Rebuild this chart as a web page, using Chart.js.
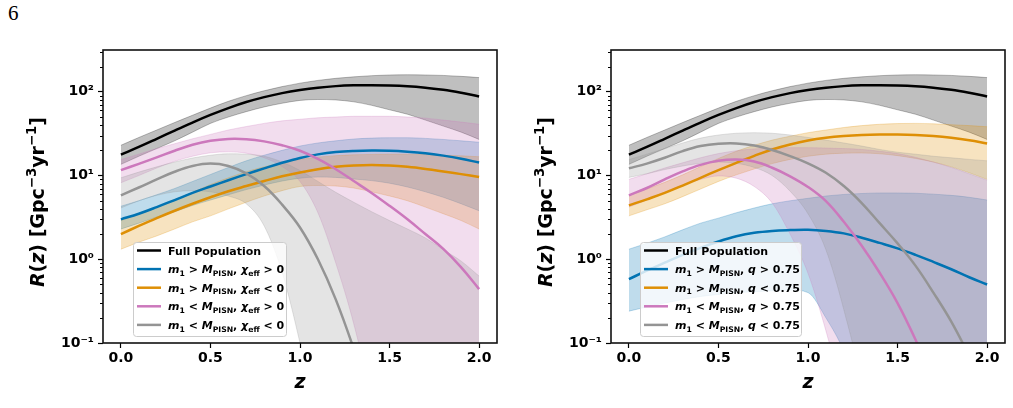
<!DOCTYPE html>
<html>
<head>
<meta charset="utf-8">
<script src="https://cdn.jsdelivr.net/npm/chart.js@4.4.1/dist/chart.umd.min.js"></script>
<style>
  html, body { margin: 0; padding: 0; background: #fff; }
  #wrap { position: relative; width: 1013px; height: 408px; overflow: hidden; }
  #wrap canvas { position: absolute; top: 0; }
  #pageNum { position: absolute; left: 8px; top: 0; font: 21px "Liberation Serif", serif; line-height: 27px; color: #000; }
</style>
</head>
<body>
<div id="wrap">
  <div id="pageNum">6</div>
  <canvas id="chiChart" width="506" height="408" style="left:0"></canvas>
  <canvas id="qChart" width="507" height="408" style="left:506px"></canvas>
</div>
<script>
// redshift grid shared by every curve
const zGrid = [0, 0.1, 0.2, 0.3, 0.4, 0.5, 0.6, 0.7, 0.8, 0.9, 1.0, 1.1, 1.2, 1.3, 1.4, 1.5, 1.6, 1.7, 1.8, 1.9, 2.0];

// Full population (same in both panels)
const fullMed = [17.8, 22, 27.5, 34.5, 43, 53, 64, 75.5, 86.5, 96.5, 105, 112, 117, 119.5, 120, 119, 116.5, 112, 106, 97.5, 88];
const fullHi  = [23, 28.5, 35, 43, 52.5, 64, 77, 90, 103, 115.5, 127, 137, 145, 151, 156, 159, 160, 159, 157, 153, 148];
const fullLo  = [13.6, 17, 21, 26, 33, 42, 50, 58, 66, 73, 79, 81, 80, 76, 69, 61, 54, 46, 39, 33, 27];

// left panel: split by chi_eff
const aboveChiPosMed = [3.0, 3.5, 4.2, 5.1, 6.2, 7.4, 8.8, 10.4, 12.2, 14.2, 16.2, 17.9, 19.1, 19.7, 19.9, 19.8, 19.3, 18.5, 17.3, 15.9, 14.3];
const aboveChiPosHi  = [4.3, 5.0, 5.9, 7.0, 8.5, 10.3, 12.5, 15, 17.5, 20, 22.5, 24.5, 26, 27.3, 28, 28.3, 28.3, 27.8, 27, 26, 25];
const aboveChiPosLo  = [2.3, 2.7, 3.2, 3.7, 4.4, 5.1, 5.9, 6.8, 7.7, 8.6, 9.3, 9.6, 9.5, 9.1, 8.7, 8.1, 7.3, 6.4, 5.5, 4.6, 3.8];

const aboveChiNegMed = [2.0, 2.5, 3.1, 3.8, 4.6, 5.5, 6.5, 7.5, 8.6, 9.8, 10.9, 11.9, 12.7, 13.2, 13.4, 13.2, 12.7, 12, 11.2, 10.4, 9.6];
const aboveChiNegHi  = [2.9, 3.5, 4.2, 5.1, 6.3, 7.8, 9.4, 11.1, 12.7, 14.2, 15.6, 16.6, 17.3, 17.7, 17.9, 18, 18, 17.8, 17.5, 17.2, 16.8];
const aboveChiNegLo  = [1.32, 1.6, 1.9, 2.3, 2.8, 3.3, 4.0, 4.8, 5.7, 6.6, 7.4, 7.6, 7.5, 7.1, 6.4, 5.7, 5.0, 4.2, 3.5, 2.9, 2.3];

const belowChiPosMed = [11.6, 13.8, 16.5, 19.8, 23.3, 26, 27.4, 27.2, 25.6, 23, 19.8, 15.8, 11.9, 8.6, 6.2, 4.35, 3.0, 2.0, 1.33, 0.80, 0.44];
const belowChiPosHi  = [15.5, 18, 21, 24, 27.5, 31, 35, 38.5, 42, 45, 47, 49, 50, 51, 51, 51, 50, 48.5, 46, 43.5, 41];
const belowChiPosLo  = [8.2, 10, 12.3, 14.8, 17, 18.7, 19.2, 18.5, 16.3, 12.8, 8.5, 3.6, 0.9, 0.17, 0.02, 0.001, 0.001, 0.001, 0.001, 0.001, 0.001];

const belowChiNegMed = [5.8, 7.2, 9.0, 11.1, 13.0, 13.9, 13.0, 10.6, 7.5, 4.5, 2.4, 1.0, 0.33, 0.085, 0.018, null, null, null, null, null, null];
const belowChiNegHi  = [9.4, 11, 12.7, 14.5, 16.2, 17.5, 18.2, 18, 17, 14.5, 11.5, 8.5, 6.3, 4.8, 3.7, 2.9, 2.3, 1.8, 1.3, 0.95, 0.63];
const belowChiNegLo  = [4.1, 5.0, 5.8, 6.4, 6.6, 6.4, 5.7, 4.6, 2.5, 0.7, 0.1, 0.01, 0.001, 0.001, 0.001, 0.001, 0.001, 0.001, 0.001, 0.001, 0.001];

// right panel: split by mass ratio q
const aboveQHighMed = [0.58, 0.73, 0.91, 1.13, 1.37, 1.63, 1.88, 2.07, 2.18, 2.23, 2.25, 2.18, 2.04, 1.81, 1.57, 1.35, 1.13, 0.93, 0.76, 0.61, 0.5];
const aboveQHighHi  = [1.32, 1.55, 1.85, 2.25, 2.7, 3.1, 3.6, 4.1, 4.6, 5.0, 5.35, 5.7, 5.95, 6.1, 6.2, 6.2, 6.15, 6.0, 5.8, 5.5, 5.1];
const aboveQHighLo  = [0.24, 0.27, 0.3, 0.33, 0.36, 0.38, 0.40, 0.41, 0.42, 0.43, 0.40, 0.2, 0.08, 0.02, 0.001, 0.001, 0.001, 0.001, 0.001, 0.001, 0.001];

const aboveQLowMed = [4.4, 5.2, 6.2, 7.6, 9.4, 11.6, 14.2, 17.2, 20.5, 23.5, 26.2, 28.2, 29.6, 30.5, 30.9, 30.9, 30.5, 29.6, 28.2, 26.4, 24.2];
const aboveQLowHi  = [5.8, 6.9, 8.3, 10.2, 12.8, 16, 19.5, 23, 26.5, 29.5, 32.5, 35, 37.5, 39.5, 41, 41.8, 42, 41.5, 40.5, 39.5, 38.3];
const aboveQLowLo  = [3.3, 3.9, 4.6, 5.6, 6.9, 8.5, 10.2, 12, 13.9, 15.6, 17, 18, 18.5, 18.6, 18.2, 17.3, 16, 14.5, 12.7, 10.8, 9.0];

const belowQHighMed = [5.8, 7.1, 9.0, 11.2, 13.4, 15, 15.5, 14.7, 12.4, 9.8, 7.3, 4.95, 2.8, 1.45, 0.69, 0.30, 0.11, 0.035, null, null, null];
const belowQHighHi  = [9, 10.5, 12.3, 14.2, 16.3, 18.3, 19.8, 20.8, 21.3, 21.5, 21.5, 21.3, 21, 20.5, 19.5, 18.3, 16.5, 14.5, 12.5, 10.5, 8.8];
const belowQHighLo  = [4.2, 5.1, 6.3, 7.7, 9.0, 9.9, 9.3, 7.4, 4.7, 2.0, 0.68, 0.14, 0.02, 0.001, 0.001, 0.001, 0.001, 0.001, 0.001, 0.001, 0.001];

const belowQLowMed = [12.2, 13.9, 16.3, 19.6, 22.5, 24, 24.2, 22.8, 20.2, 17.1, 14, 10.8, 7.5, 4.7, 2.7, 1.55, 0.84, 0.40, 0.18, 0.07, 0.025];
const belowQLowHi  = [15.5, 18, 21, 24.5, 28, 30.5, 32, 32.5, 32, 30.5, 28.5, 26.5, 24.5, 22.5, 20.5, 19, 18, 17, 16.3, 15.6, 15];
const belowQLowLo  = [9.5, 10.5, 11.8, 13, 14, 14.5, 14, 12.5, 10, 6.5, 3.5, 1.3, 0.25, 0.03, 0.001, 0.001, 0.001, 0.001, 0.001, 0.001, 0.001];

// axis ticks
const xTickValues = [0, 0.5, 1.0, 1.5, 2.0];
const yMajorTicks = [0.1, 1, 10, 100];
const yTickLabels = ['10\u207B\u00B9', '10\u2070', '10\u00B9', '10\u00B2'];
const yMinorTicks = [];
[0.1, 1, 10, 100].forEach(d => [2, 3, 4, 5, 6, 7, 8, 9].forEach(m => { if (d * m < 316) yMinorTicks.push(+(d * m).toPrecision(3)); }));

// legend text pieces: [text, style]  i = italic, n = upright, sub/sup
const chiLegend = [
  [['Full Population', 'n']],
  [['m', 'i'], ['1', 'sub'], [' > ', 'n'], ['M', 'i'], ['PISN', 'sub'], [', ', 'n'], ['\u03C7', 'i'], ['eff', 'sub'], [' > 0', 'n']],
  [['m', 'i'], ['1', 'sub'], [' > ', 'n'], ['M', 'i'], ['PISN', 'sub'], [', ', 'n'], ['\u03C7', 'i'], ['eff', 'sub'], [' < 0', 'n']],
  [['m', 'i'], ['1', 'sub'], [' < ', 'n'], ['M', 'i'], ['PISN', 'sub'], [', ', 'n'], ['\u03C7', 'i'], ['eff', 'sub'], [' > 0', 'n']],
  [['m', 'i'], ['1', 'sub'], [' < ', 'n'], ['M', 'i'], ['PISN', 'sub'], [', ', 'n'], ['\u03C7', 'i'], ['eff', 'sub'], [' < 0', 'n']]
];
const qLegend = [
  [['Full Population', 'n']],
  [['m', 'i'], ['1', 'sub'], [' > ', 'n'], ['M', 'i'], ['PISN', 'sub'], [', ', 'n'], ['q', 'i'], [' > 0.75', 'n']],
  [['m', 'i'], ['1', 'sub'], [' > ', 'n'], ['M', 'i'], ['PISN', 'sub'], [', ', 'n'], ['q', 'i'], [' < 0.75', 'n']],
  [['m', 'i'], ['1', 'sub'], [' < ', 'n'], ['M', 'i'], ['PISN', 'sub'], [', ', 'n'], ['q', 'i'], [' > 0.75', 'n']],
  [['m', 'i'], ['1', 'sub'], [' < ', 'n'], ['M', 'i'], ['PISN', 'sub'], [', ', 'n'], ['q', 'i'], [' < 0.75', 'n']]
];
const yTitle = [['R', 'i'], ['(', 'n'], ['z', 'i'], [') [Gpc', 'n'], ['\u22123', 'sup'], ['yr', 'n'], ['\u22121', 'sup'], [']', 'n']];

const colBlack = '0,0,0', colBlue = '1,115,178', colOrange = '222,143,5', colPink = '204,120,188', colGray = '148,148,148';

const chiSeries = [
  { med: fullMed, hi: fullHi, lo: fullLo, rgb: colBlack },
  { med: aboveChiPosMed, hi: aboveChiPosHi, lo: aboveChiPosLo, rgb: colBlue },
  { med: aboveChiNegMed, hi: aboveChiNegHi, lo: aboveChiNegLo, rgb: colOrange },
  { med: belowChiPosMed, hi: belowChiPosHi, lo: belowChiPosLo, rgb: colPink },
  { med: belowChiNegMed, hi: belowChiNegHi, lo: belowChiNegLo, rgb: colGray }
];
const qSeries = [
  { med: fullMed, hi: fullHi, lo: fullLo, rgb: colBlack },
  { med: aboveQHighMed, hi: aboveQHighHi, lo: aboveQHighLo, rgb: colBlue },
  { med: aboveQLowMed, hi: aboveQLowHi, lo: aboveQLowLo, rgb: colOrange },
  { med: belowQHighMed, hi: belowQHighHi, lo: belowQHighLo, rgb: colPink },
  { med: belowQLowMed, hi: belowQLowHi, lo: belowQLowLo, rgb: colGray }
];

Chart.defaults.font.family = '"DejaVu Sans", sans-serif';
Chart.defaults.color = '#000';

function pts(arr) {
  return zGrid.map((z, i) => ({ x: z, y: arr[i] }));
}

function buildDatasets(series) {
  const ds = [];
  // bands first (fill_between sits under the lines)
  series.forEach((s, k) => {
    const band = `rgba(${s.rgb},0.25)`;
    ds.push({ data: pts(s.hi), borderColor: band, backgroundColor: band, borderWidth: 1, pointRadius: 0,
              fill: '+1', order: 30 - k, cubicInterpolationMode: 'monotone' });
    ds.push({ data: pts(s.lo), borderColor: band, borderWidth: 1, pointRadius: 0,
              fill: false, order: 30 - k, cubicInterpolationMode: 'monotone' });
  });
  series.forEach((s, k) => {
    ds.push({ data: pts(s.med), borderColor: `rgb(${s.rgb})`, borderWidth: 2.5, pointRadius: 0,
              fill: false, order: 10 - k, tension: 0.4 });
  });
  return ds;
}

// draws mixed upright / italic / sub / sup bold text, returns width
function drawRich(ctx, parts, x, y, size, measureOnly) {
  let cx = x;
  for (const [t, st] of parts) {
    let fs = size, dy = 0;
    if (st === 'sub') { fs = size * 0.7; dy = size * 0.25; }
    if (st === 'sup') { fs = size * 0.7; dy = -size * 0.42; }
    ctx.font = (st === 'i' ? 'italic ' : '') + 'bold ' + fs + 'px "DejaVu Sans"';
    if (!measureOnly) ctx.fillText(t, cx, y + dy);
    cx += ctx.measureText(t).width;
  }
  return cx - x;
}

const paperDecor = {
  id: 'paperDecor',
  afterDraw(chart, args, opts) {
    const ctx = chart.ctx;
    const { left, right, top, bottom } = chart.chartArea;
    const yScale = chart.scales.y;
    ctx.save();

    // minor y ticks
    ctx.strokeStyle = '#000';
    ctx.lineWidth = 1;
    yMinorTicks.forEach(v => {
      const py = Math.round(yScale.getPixelForValue(v)) + 0.5;
      ctx.beginPath();
      ctx.moveTo(left - 3, py);
      ctx.lineTo(left, py);
      ctx.stroke();
    });

    // frame
    ctx.lineWidth = 1.6;
    ctx.strokeStyle = '#111';
    ctx.strokeRect(left, top, right - left, bottom - top);

    // axis titles
    ctx.fillStyle = '#000';
    ctx.textBaseline = 'alphabetic';
    ctx.textAlign = 'left';
    ctx.font = 'italic bold 19px "DejaVu Sans"';
    const zw = ctx.measureText('z').width;
    ctx.fillText('z', (left + right) / 2 - zw / 2, 388);

    const tw = drawRich(ctx, yTitle, 0, 0, 19, true);
    ctx.save();
    ctx.translate(left - 59, opts.yTitleCenter);
    ctx.rotate(-Math.PI / 2);
    drawRich(ctx, yTitle, -tw / 2, 0, 19);
    ctx.restore();

    // legend
    const lb = opts.legendBox;
    const bx = left + lb.dx, by = top + lb.dy;
    ctx.beginPath();
    ctx.roundRect(bx + 0.5, by + 0.5, lb.w, lb.h, 3);
    ctx.fillStyle = 'rgba(255,255,255,0.8)';
    ctx.fill();
    ctx.strokeStyle = '#cccccc';
    ctx.lineWidth = 1;
    ctx.stroke();
    opts.labels.forEach((parts, i) => {
      const cy = by + 8.5 + i * 18.6;
      ctx.strokeStyle = `rgb(${opts.colors[i]})`;
      ctx.lineWidth = 2.5;
      ctx.beginPath();
      ctx.moveTo(bx + 4, cy);
      ctx.lineTo(bx + 28, cy);
      ctx.stroke();
      ctx.fillStyle = '#000';
      drawRich(ctx, parts, bx + 35, cy + 4, 11);
    });

    ctx.restore();
  }
};

function makeChart(id, series, labels, axisW, padRight, legendBox) {
  return new Chart(document.getElementById(id), {
    type: 'line',
    data: { datasets: buildDatasets(series) },
    options: {
      responsive: false,
      animation: false,
      devicePixelRatio: 1,
      layout: { padding: { left: 0, right: padRight, top: 50, bottom: 0 } },
      plugins: {
        legend: { display: false },
        tooltip: { enabled: false },
        paperDecor: { labels, colors: series.map(s => s.rgb), legendBox, yTitleCenter: 202 }
      },
      scales: {
        x: {
          type: 'linear',
          min: -0.1,
          max: 2.1,
          afterBuildTicks: s => { s.ticks = xTickValues.map(v => ({ value: v })); },
          afterFit: s => { s.height = 65; },
          ticks: {
            autoSkip: false,
            maxRotation: 0,
            padding: 2,
            font: { size: 14, weight: 'bold' },
            callback: v => Number(v).toFixed(1)
          },
          grid: { drawOnChartArea: false, drawTicks: true, tickLength: 5, tickColor: '#000', tickWidth: 1.2 },
          border: { display: false }
        },
        y: {
          type: 'logarithmic',
          min: 0.1,
          max: 316,
          afterBuildTicks: s => {
            s.ticks = yMajorTicks.concat(yMinorTicks).sort((a, b) => a - b).map(v => ({ value: v }));
          },
          afterFit: s => { s.width = axisW; },
          ticks: {
            autoSkip: false,
            padding: 4,
            font: { size: 14, weight: 'bold' },
            callback: v => {
              const i = yMajorTicks.indexOf(v);
              return i >= 0 ? yTickLabels[i] : '';
            }
          },
          grid: {
            drawOnChartArea: false,
            drawTicks: true,
            tickLength: 5,
            tickWidth: 1.2,
            tickColor: c => (c.tick && yMajorTicks.includes(c.tick.value)) ? '#000' : 'rgba(0,0,0,0)'
          },
          border: { display: false }
        }
      }
    },
    plugins: [paperDecor]
  });
}

makeChart('chiChart', chiSeries, chiLegend, 103, 9, { dx: 30, dy: 192, w: 153, h: 94 });
makeChart('qChart', qSeries, qLegend, 105, 8, { dx: 29, dy: 192, w: 161, h: 94 });
</script>
</body>
</html>
